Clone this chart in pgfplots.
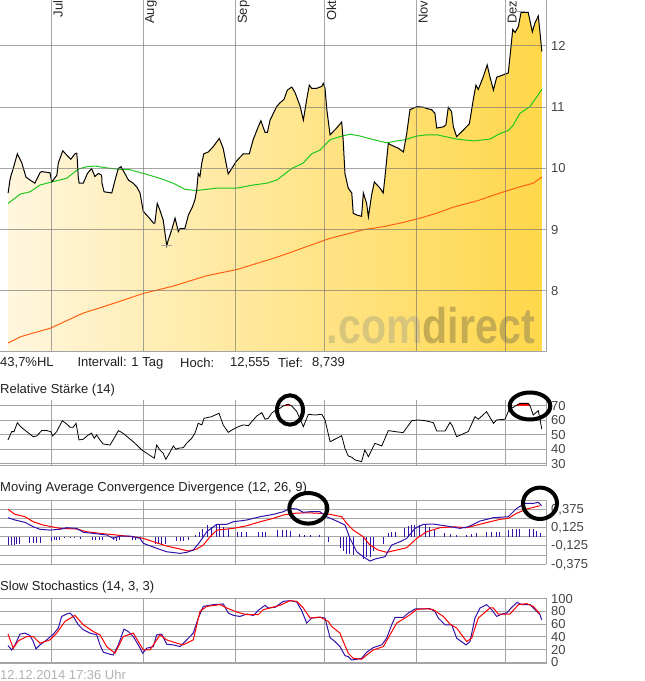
\documentclass[border=0pt]{standalone}
\usepackage{graphicx}
\usepackage{pgfplots}
\pgfplotsset{compat=1.18}
\usepackage{pgfplotstable}
\usepackage{fontspec}
\setmainfont{Liberation Sans}
\newcommand{\lbl}{\fontsize{13}{15}\selectfont}
\definecolor{gridc}{HTML}{A4A4A4}
\definecolor{fillL}{HTML}{FFF6DE}
\definecolor{fillR}{HTML}{FFD74A}
\definecolor{maG}{HTML}{1EC81E}
\definecolor{maO}{HTML}{FF6010}
\definecolor{mblue}{HTML}{3311AA}
\definecolor{labc}{HTML}{444444}
\definecolor{wm1}{HTML}{D8C57C}
\definecolor{wm2}{HTML}{C5AC52}

\pgfplotstableread{
d p
-14.6 9.60
-14.0 9.81
-13.6 9.89
-13.0 9.98
-11.5 10.24
-10.0 10.09
-8.6 9.86
-7.2 9.81
-5.6 9.76
-3.9 9.93
-3.3 9.95
-0.5 9.93
0.1 9.78
1.8 9.89
2.3 10.09
3.8 10.29
5.1 10.22
6.5 10.15
7.9 10.24
8.5 10.25
8.7 10.14
9.0 9.87
9.3 9.76
10.7 9.76
12.1 9.92
13.5 10.00
14.6 9.87
15.8 9.92
16.9 9.89
17.0 9.76
17.7 9.62
20.3 9.60
21.4 9.81
22.5 10.00
23.4 10.03
24.7 9.92
25.9 9.81
27.5 9.76
28.7 9.70
29.8 9.60
30.9 9.30
32.6 9.21
34.3 9.11
34.8 9.11
35.6 9.43
36.5 9.32
37.6 9.16
38.8 8.74
39.3 8.83
40.5 9.00
41.6 9.19
42.7 8.97
43.3 9.02
44.9 9.02
46.1 9.24
47.5 9.38
48.3 9.49
48.9 9.65
49.4 9.92
50.0 9.87
50.6 10.09
51.3 10.24
52.8 10.27
54.5 10.36
56.5 10.49
57.8 10.33
59.5 9.91
60.7 10.00
62.1 10.11
63.2 10.17
64.6 10.24
66.6 10.24
67.9 10.47
69.6 10.68
70.5 10.78
71.9 10.59
72.7 10.59
73.6 10.79
75.8 11.01
76.9 11.07
78.3 11.13
79.4 11.28
80.9 11.33
82.0 11.24
83.7 11.02
84.8 10.79
85.9 11.12
86.8 11.36
87.6 11.31
89.3 11.31
91.0 11.34
91.5 11.39
92.1 11.31
92.7 10.96
93.8 10.55
96.0 10.66
97.7 10.76
98.2 10.47
98.8 9.92
99.9 9.68
101.1 9.60
101.6 9.27
102.8 9.24
104.4 9.22
105.0 9.60
106.1 9.43
106.7 9.21
107.8 9.57
108.7 9.78
110.6 9.68
111.7 9.60
112.3 9.87
113.4 10.41
114.5 10.38
116.8 10.33
118.5 10.27
119.6 10.57
120.7 10.96
123.0 11.01
125.2 11.00
126.3 10.98
128.0 10.96
129.1 10.90
129.7 10.66
131.9 10.68
132.8 10.71
133.6 11.00
134.7 10.93
135.3 10.68
136.4 10.52
138.7 10.63
140.7 10.73
142.0 11.12
142.9 11.36
143.7 11.29
145.4 11.50
146.7 11.69
147.6 11.50
148.8 11.28
149.9 11.49
151.0 11.51
152.7 11.54
153.8 11.56
154.6 11.93
155.3 12.27
156.1 12.22
157.2 12.32
158.1 12.55
160.5 12.55
161.9 12.23
162.8 12.38
163.9 12.49
164.5 12.21
165.1 11.91
}\price

\pgfplotsset{
  panel/.style={
    scale only axis, width=546pt, anchor=south west,
    xmin=-17.34, xmax=166.5,
    xtick={0,31,62,92,123,153}, xticklabels={},
    axis x line*=bottom, axis y line*=right,
    axis line style={draw=gridc, line width=1pt, -},
    major tick length=0pt, minor tick length=0pt,
    xtick style={draw=none}, ytick style={draw=none},
    grid=both,
    major grid style={draw=gridc, line width=1pt},
    minor grid style={draw=gridc, line width=1pt},
    yticklabel style={anchor=west, inner sep=0pt, xshift=5pt, font=\lbl, text=labc},
  }
}

\begin{document}
\begin{tikzpicture}[x=1pt,y=1pt]
\useasboundingbox (0,0) rectangle (645,681);

% ---------------- main price chart
\begin{axis}[panel, at={(0pt,329pt)}, height=352pt,
  ymin=7.004, ymax=12.751,
  ytick={8,9,10,11,12}, yticklabels={8,9,10,11,12},
  axis on top,
  major grid style={draw=black!56, opacity=0.62, line width=1pt}]
\addplot[draw=none, left color=fillL, right color=fillR] table[x=d,y=p] {\price} \closedcycle;
\node[anchor=base west, inner sep=0pt] at (axis cs:92.6,7.135)
  {\resizebox{208pt}{\height}{\fontsize{50}{50}\selectfont\bfseries\textcolor{wm1}{.com}\textcolor{wm2}{direct}}};
\addplot[maO, line width=1pt] coordinates {(-14.6,7.15)(-10.6,7.25)(-7.2,7.30)(-0.5,7.39)(10.7,7.64)(18.6,7.76)(30.9,7.96)(41.0,8.08)(52.3,8.25)(62.4,8.35)(75.8,8.55)(93.8,8.86)(99.4,8.93)(105.0,9.00)(111.7,9.05)(118.5,9.12)(124.1,9.19)(129.7,9.27)(135.3,9.37)(143.2,9.47)(151.0,9.60)(157.7,9.70)(162.2,9.76)(165.1,9.86)};
\addplot[maG, line width=1pt] coordinates {(-14.6,9.43)(-10.6,9.58)(-7.2,9.62)(-3.9,9.73)(0.1,9.78)(5.1,9.84)(9.0,9.99)(11.9,10.03)(14.6,10.04)(18.6,10.01)(22.0,9.99)(26.4,9.98)(30.9,9.92)(36.5,9.84)(41.0,9.76)(44.9,9.66)(48.9,9.64)(55.6,9.68)(62.4,9.68)(67.9,9.73)(72.5,9.76)(75.8,9.81)(78.0,9.89)(80.9,10.00)(84.8,10.09)(87.6,10.24)(90.4,10.30)(93.8,10.47)(97.1,10.52)(100.5,10.56)(103.9,10.53)(108.4,10.47)(112.9,10.42)(116.2,10.45)(119.0,10.47)(123.0,10.53)(126.5,10.55)(129.8,10.55)(136.4,10.48)(142.0,10.45)(147.6,10.48)(151.0,10.57)(153.8,10.62)(155.5,10.71)(157.7,10.90)(161.1,11.01)(163.4,11.17)(165.1,11.29)};
\addplot[black, line width=1pt] table[x=d,y=p] {\price};
\addplot[gridc, line width=1pt] coordinates {(37.0,8.739)(40.5,8.739)};
\addplot[gridc, line width=1pt] coordinates {(156.6,12.57)(159.4,12.57)};
\end{axis}

% month labels
\foreach \gx/\m in {51.5/Jul,143.5/Aug,236/Sep,325/Okt,417/Nov,506/Dez}{
  \node[rotate=90, anchor=north east, inner sep=0pt, font=\lbl, text=black!85] at (\gx+1.5,680.5) {\m};
}

% info line
\begin{scope}[every node/.style={anchor=west, inner sep=0pt, font=\lbl, text=black!88}]
\node at (0,318) {43,7\%HL};
\node at (77.3,318) {Intervall: 1 Tag};
\node at (180,318) {Hoch:};
\node at (230,318) {12,555};
\node at (278,318) {Tief:};
\node at (312,318) {8,739};
\node at (0,291) {Relative Stärke (14)};
\node at (0,193) {Moving Average Convergence Divergence (12, 26, 9)};
\node at (0,93.5) {Slow Stochastics (14, 3, 3)};
\node[text=black!30] at (0,6) {12.12.2014 17:36 Uhr};
\end{scope}

% ---------------- RSI
\begin{axis}[panel, at={(0pt,215pt)}, height=66pt,
  ymin=28.6, ymax=73.9,
  ytick={30,40,50,60,70}, yticklabels={30,40,50,60,70}]
\addplot[fill=red, draw=red, line width=0.5pt] coordinates {(78.2,70)(79.7,71.0)(80.5,70)} -- cycle;
\addplot[fill=red, draw=red, line width=0.5pt] coordinates {(156.4,70)(157.7,71.6)(160.5,71.6)(161.1,70)} -- cycle;
\addplot[black, line width=0.8pt] coordinates {(-14.65,46.5)(-13.4,52.2)(-12.6,52.2)(-11.5,58.3)(-10.4,55.6)(-8.35,52.2)(-6.13,48.7)(-5.0,49.2)(-3.3,52.9)(-1.6,52.9)(-0.27,52.2)(0.4,49.2)(1.75,52.2)(3.64,59.7)(5.12,57.4)(6.23,55.2)(7.34,55.2)(8.25,57.9)(9.26,46.5)(10.7,47.0)(12.4,49.9)(13.5,51.1)(14.4,47.6)(15.2,49.9)(16.3,46.5)(17.4,43.7)(19.7,43.0)(21.4,48.7)(22.5,52.9)(23.6,51.7)(24.8,49.9)(25.9,48.0)(27.5,45.3)(28.7,43.0)(30.4,39.6)(32.1,37.3)(34.6,33.9)(35.4,43.0)(36.5,39.6)(37.6,37.3)(38.5,33.2)(39.7,37.3)(41.0,42.35)(41.9,40.1)(42.7,40.8)(44.4,41.2)(45.5,44.2)(47.2,47.6)(48.3,51.1)(49.4,57.9)(50.6,56.8)(51.35,61.35)(53.9,62.45)(56.4,64.8)(57.8,56.8)(59.5,51.7)(61.2,53.8)(62.9,55.6)(64.6,56.8)(66.3,56.3)(67.4,59.0)(69.1,62.9)(70.8,65.2)(71.9,60.7)(73.0,61.35)(74.1,64.8)(75.8,67.5)(76.9,68.2)(78.0,69.8)(79.7,71.0)(80.9,69.8)(82.6,65.9)(84.8,55.6)(86.5,64.1)(88.7,63.6)(91.0,64.1)(92.1,60.2)(93.8,45.3)(97.1,48.7)(97.7,49.4)(98.8,40.8)(99.9,35.5)(101.1,34.6)(102.2,32.75)(104.4,31.6)(105.5,39.6)(106.7,35.0)(108.9,44.2)(111.2,42.35)(113.4,52.9)(115.7,52.2)(118.4,51.5)(121.3,59.7)(123.5,60.2)(125.8,59.7)(128.6,58.3)(129.7,52.6)(132.5,52.6)(134.2,58.6)(135.1,55.6)(136.4,48.7)(140.3,52.2)(142.6,62.45)(143.7,60.7)(146.5,65.9)(148.8,57.9)(149.9,60.2)(152.7,60.7)(154.1,67.5)(155.5,68.9)(157.7,71.6)(160.5,71.6)(161.1,70.0)(162.2,63.6)(163.9,66.6)(164.5,60.2)(165.1,53.8)};
\end{axis}

% ---------------- MACD
\begin{axis}[panel, at={(0pt,116.7pt)}, height=64.3pt,
  ymin=-0.375, ymax=0.502,
  ytick={-0.375,-0.125,0.125,0.375}, yticklabels={{-0,375},{-0,125},{0,125},{0,375}},
  minor ytick={-0.25,0,0.25,0.5}]
\addplot[ycomb, mblue, line width=1pt] coordinates {(-14.31,-0.11)(-13.4,-0.11)(-12.53,-0.11)(-11.72,-0.10)(-10.61,-0.10)(-7.24,-0.09)(-6.13,-0.09)(-4.98,-0.09)(-3.87,-0.09)(0.07,-0.06)(0.94,-0.05)(1.75,-0.04)(2.86,-0.05)(4.54,-0.02)(6.23,-0.02)(7.91,-0.02)(9.6,-0.03)(13.97,-0.05)(14.98,-0.05)(16.33,-0.05)(17.34,-0.04)(20.71,-0.05)(21.72,-0.06)(23.06,-0.05)(27.44,-0.04)(28.45,-0.05)(29.8,-0.04)(34.85,-0.10)(35.86,-0.10)(37.2,-0.10)(38.55,-0.10)(41.92,-0.06)(43.27,-0.06)(44.61,-0.06)(45.96,-0.05)(48.32,0.02)(50.0,0.07)(51.01,0.10)(52.36,0.16)(54.04,0.14)(55.39,0.16)(56.73,0.16)(58.08,0.13)(59.43,0.10)(62.79,0.07)(64.14,0.07)(65.49,0.07)(69.53,0.07)(70.88,0.06)(72.22,0.07)(76.26,0.09)(77.61,0.09)(78.96,0.09)(80.64,0.08)(83.67,0.04)(85.35,0.02)(87.04,0.02)(90.4,0.02)(93.1,-0.07)(97.14,-0.15)(98.25,-0.20)(99.39,-0.23)(100.5,-0.23)(101.6,-0.25)(104.98,-0.30)(106.1,-0.28)(107.24,-0.27)(108.35,-0.20)(111.72,-0.10)(113.4,0.05)(114.54,0.07)(115.66,0.07)(119.02,0.12)(120.13,0.15)(121.28,0.16)(122.39,0.16)(124.07,0.16)(125.76,0.16)(127.44,0.13)(129.12,0.10)(132.49,0.05)(134.18,0.04)(136.43,0.02)(139.8,0.03)(141.48,0.04)(143.16,0.05)(146.53,0.07)(148.21,0.07)(149.9,0.07)(151.0,0.06)(153.8,0.09)(155.29,0.11)(156.63,0.11)(157.74,0.11)(161.1,0.11)(162.2,0.10)(163.36,0.08)(164.48,0.05)};
\addplot[red, line width=1pt] coordinates {(-14.65,0.375)(-12.29,0.306)(-8.92,0.274)(-6.13,0.205)(-2.76,0.160)(0.07,0.137)(2.86,0.115)(8.48,0.106)(11.85,0.069)(16.33,0.047)(21.95,0.024)(27.54,0.0)(30.91,-0.021)(34.27,-0.067)(38.79,-0.126)(43.27,-0.167)(46.06,-0.194)(48.89,-0.167)(51.11,-0.112)(53.37,0.0)(55.73,0.092)(61.21,0.115)(65.72,0.151)(70.2,0.205)(74.68,0.252)(78.05,0.297)(81.42,0.320)(85.93,0.328)(90.4,0.320)(93.77,0.306)(97.71,0.274)(99.4,0.183)(101.6,0.092)(105.0,0.0)(107.2,-0.112)(110.0,-0.181)(112.9,-0.212)(116.2,-0.181)(119.6,-0.149)(123.0,-0.021)(126.3,0.069)(130.8,0.124)(135.3,0.137)(139.8,0.124)(143.2,0.160)(147.6,0.205)(151.0,0.238)(153.8,0.252)(156.6,0.320)(160.0,0.379)(164.5,0.424)};
\addplot[mblue, line width=1pt] coordinates {(-14.65,0.260)(-12.29,0.229)(-8.92,0.197)(-6.13,0.137)(-3.87,0.102)(-0.5,0.092)(2.86,0.102)(5.12,0.124)(8.48,0.115)(10.71,0.061)(14.07,0.047)(18.59,0.024)(20.81,-0.021)(23.06,0.010)(26.43,0.010)(29.8,-0.021)(30.91,-0.089)(35.42,-0.157)(38.79,-0.204)(43.27,-0.226)(45.52,-0.212)(47.74,-0.181)(50.0,-0.067)(52.26,0.069)(55.62,0.170)(58.99,0.170)(61.21,0.205)(65.72,0.229)(70.2,0.274)(74.68,0.306)(78.05,0.342)(80.3,0.388)(82.56,0.379)(84.78,0.334)(87.04,0.342)(90.4,0.342)(92.66,0.274)(96.56,0.205)(98.82,0.160)(100.5,-0.021)(102.76,-0.204)(104.98,-0.272)(107.24,-0.331)(108.92,-0.303)(112.28,-0.272)(114.54,-0.112)(117.34,-0.067)(119.6,-0.021)(122.39,0.115)(125.18,0.170)(128.55,0.174)(133.06,0.147)(137.54,0.115)(140.34,0.137)(144.28,0.215)(148.76,0.260)(153.8,0.274)(156.63,0.388)(159.43,0.456)(162.2,0.456)(163.9,0.470)(165.05,0.424)};
\end{axis}

% ---------------- Slow Stochastics
\begin{axis}[panel, at={(0pt,17pt)}, height=65.7pt,
  ymin=-2.7, ymax=100.5,
  ytick={0,20,40,60,80,100}, yticklabels={0,20,40,60,80,100}]
\addplot[mblue, line width=1pt] coordinates {(-14.65,26.3)(-13.4,19.4)(-12.29,27.3)(-10.61,44.2)(-8.92,45.8)(-7.24,42.0)(-6.13,32.5)(-5.22,21.0)(-3.87,27.3)(-1.62,35.2)(0.61,44.2)(2.29,53.7)(3.43,72.0)(5.12,75.8)(6.23,77.4)(7.34,72.0)(9.02,58.9)(10.71,51.0)(12.96,45.8)(15.22,43.1)(16.33,27.3)(17.44,15.8)(19.7,12.6)(20.81,11.5)(22.49,27.3)(24.41,52.1)(25.86,48.3)(27.54,40.4)(29.23,27.3)(30.71,14.2)(32.05,22.1)(34.28,24.6)(35.42,43.1)(37.1,44.2)(38.79,28.4)(41.01,27.3)(43.27,24.6)(45.52,35.2)(47.74,45.8)(49.43,69.5)(51.11,87.8)(54.48,90.5)(57.84,91.6)(59.53,77.4)(61.21,73.6)(63.47,72.0)(65.72,75.8)(67.95,73.6)(70.2,83.7)(71.88,89.4)(72.99,85.3)(75.25,86.3)(78.05,95.7)(80.3,96.8)(82.56,94.8)(84.24,81.1)(85.93,61.6)(87.61,69.5)(90.4,70.5)(92.09,69.5)(93.77,38.9)(95.45,32.5)(97.14,24.6)(98.82,10.4)(99.93,8.85)(101.08,3.6)(102.76,4.7)(104.44,6.3)(106.13,15.8)(108.35,23.1)(111.18,27.3)(112.86,37.9)(114.54,58.9)(115.66,70.5)(118.45,70.5)(120.13,77.4)(122.39,83.7)(127.44,84.2)(129.12,79.9)(130.24,69.5)(132.49,58.9)(134.75,58.9)(136.43,37.9)(139.56,27.3)(140.9,32.5)(142.59,69.5)(144.28,85.3)(146.53,90.5)(148.21,82.6)(149.9,72.0)(151.58,75.8)(153.27,77.4)(154.95,86.3)(156.83,94.2)(158.32,90.5)(161.11,90.5)(162.79,82.6)(164.48,74.7)(165.05,66.8)};
\addplot[red, line width=1pt] coordinates {(-14.65,44.2)(-12.86,22.1)(-11.18,33.6)(-8.35,40.4)(-6.13,40.4)(-3.87,30.0)(-0.5,35.2)(1.75,45.8)(4.55,64.2)(7.91,73.6)(10.71,58.9)(14.07,48.3)(16.33,43.1)(18.59,24.6)(21.38,14.2)(24.17,40.4)(27.54,45.8)(30.91,19.4)(33.16,19.4)(36.53,43.1)(38.79,35.2)(42.15,30.0)(44.38,27.3)(47.74,35.2)(50.0,79.9)(52.26,87.8)(56.73,90.5)(58.99,85.3)(62.36,79.0)(65.72,74.7)(69.63,74.7)(71.32,82.6)(73.57,85.3)(76.94,89.4)(80.3,96.8)(82.56,95.7)(84.78,85.3)(87.04,69.5)(90.4,71.1)(93.2,64.2)(94.34,56.2)(97.14,45.8)(98.25,32.5)(99.93,14.2)(101.6,6.3)(104.44,4.7)(106.13,11.5)(108.35,19.4)(111.72,24.6)(113.97,43.1)(116.23,61.6)(119.02,69.5)(120.7,74.7)(122.96,83.1)(126.33,84.2)(128.55,82.6)(131.92,72.0)(134.18,60.0)(136.43,53.7)(139.8,32.5)(141.48,37.9)(143.7,69.5)(147.64,85.3)(148.76,85.3)(150.44,75.8)(154.38,75.8)(157.17,90.5)(159.99,92.1)(162.22,87.8)(164.48,75.8)};
\end{axis}

% annotation ellipses
\draw[line width=4pt] (290,271) ellipse [x radius=13pt, y radius=14.7pt];
\draw[line width=4pt] (530,275) ellipse [x radius=20.3pt, y radius=13.5pt];
\draw[line width=4pt] (308.3,172.7) ellipse [x radius=19pt, y radius=15.3pt];
\draw[line width=4pt] (540,177.7) ellipse [x radius=17pt, y radius=15.7pt];
\end{tikzpicture}
\end{document}
